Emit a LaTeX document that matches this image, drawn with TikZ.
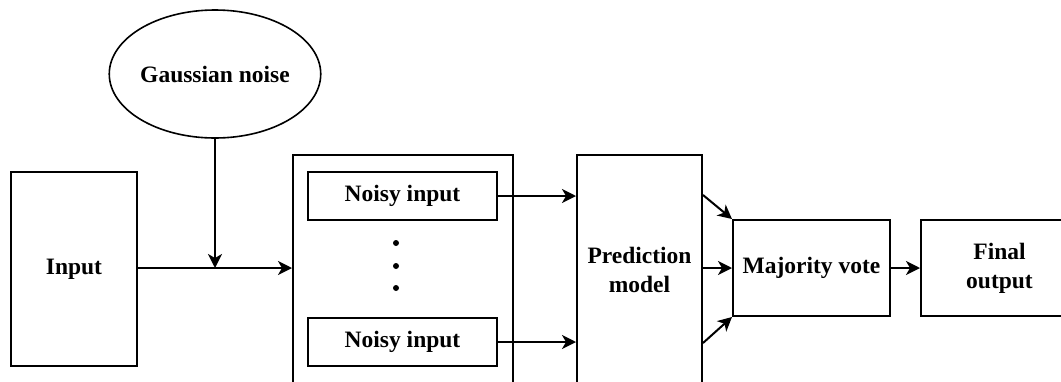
\documentclass[tikz,border=0pt]{standalone}
\usepackage{fontspec}
\setmainfont{Liberation Serif}
\usetikzlibrary{arrows.meta,shapes.geometric,calc}
\tikzset{
  blk/.style={draw, line width=2pt, rectangle, inner sep=0pt, align=center,
    font=\fontsize{23.5}{29}\selectfont\bfseries},
  oval/.style={draw, line width=1.6pt, ellipse, inner sep=0pt, align=center,
    font=\fontsize{23.5}{29}\selectfont\bfseries},
  conn/.style={draw, line width=2pt, -{Stealth[length=14pt, width=14pt, inset=4pt]}},
  dotmark/.style={fill=black, circle, inner sep=0pt, minimum size=6pt}
}
\begin{document}
\begin{tikzpicture}[x=1pt,y=-1pt]
  \useasboundingbox (0,0) rectangle (1061,381);
  \clip (0,0) rectangle (1061,381);

  % sources
  \node[oval, minimum width=189pt, minimum height=128pt] (gauss) at (215,74) {Gaussian noise};
  \node[blk, minimum width=126pt, minimum height=194pt] (input) at (74,269) {Input};

  % container holding the noisy copies
  \node[blk, minimum width=220pt, minimum height=230pt] (cont) at (403,270) {};
  \node[blk, minimum width=189pt, minimum height=48pt] (noisyA) at (402.5,196) {Noisy input};
  \node[blk, minimum width=189pt, minimum height=48pt] (noisyB) at (402.5,342) {Noisy input};
  \node[dotmark] (d1) at (396,243) {};
  \node[dotmark] (d2) at (396,266) {};
  \node[dotmark] (d3) at (396,288) {};

  % model and aggregation
  \node[blk, minimum width=125pt, minimum height=230pt] (pred) at (639.5,270) {Prediction\\model};
  \node[blk, minimum width=157pt, minimum height=96pt] (vote) at (811.5,268) {Majority vote};
  \node[blk, minimum width=157pt, minimum height=96pt] (final) at (999.5,268) {Final\\output};

  % connectors
  \coordinate (join) at (gauss.south |- 0,268);
  \path[conn] (input.east |- join) -- (cont.west |- join);
  \path[conn] (gauss.south) -- (join);
  \path[conn] (noisyA.east) -- (noisyA.east -| pred.west);
  \path[conn] (noisyB.east) -- (noisyB.east -| pred.west);
  \path[conn] (pred.east |- 0,195) -- (vote.north west);
  \path[conn] (pred.east |- vote.west) -- (vote.west);
  \path[conn] (pred.east |- 0,343) -- (vote.south west);
  \path[conn] (vote.east) -- (final.west);
\end{tikzpicture}
\end{document}
